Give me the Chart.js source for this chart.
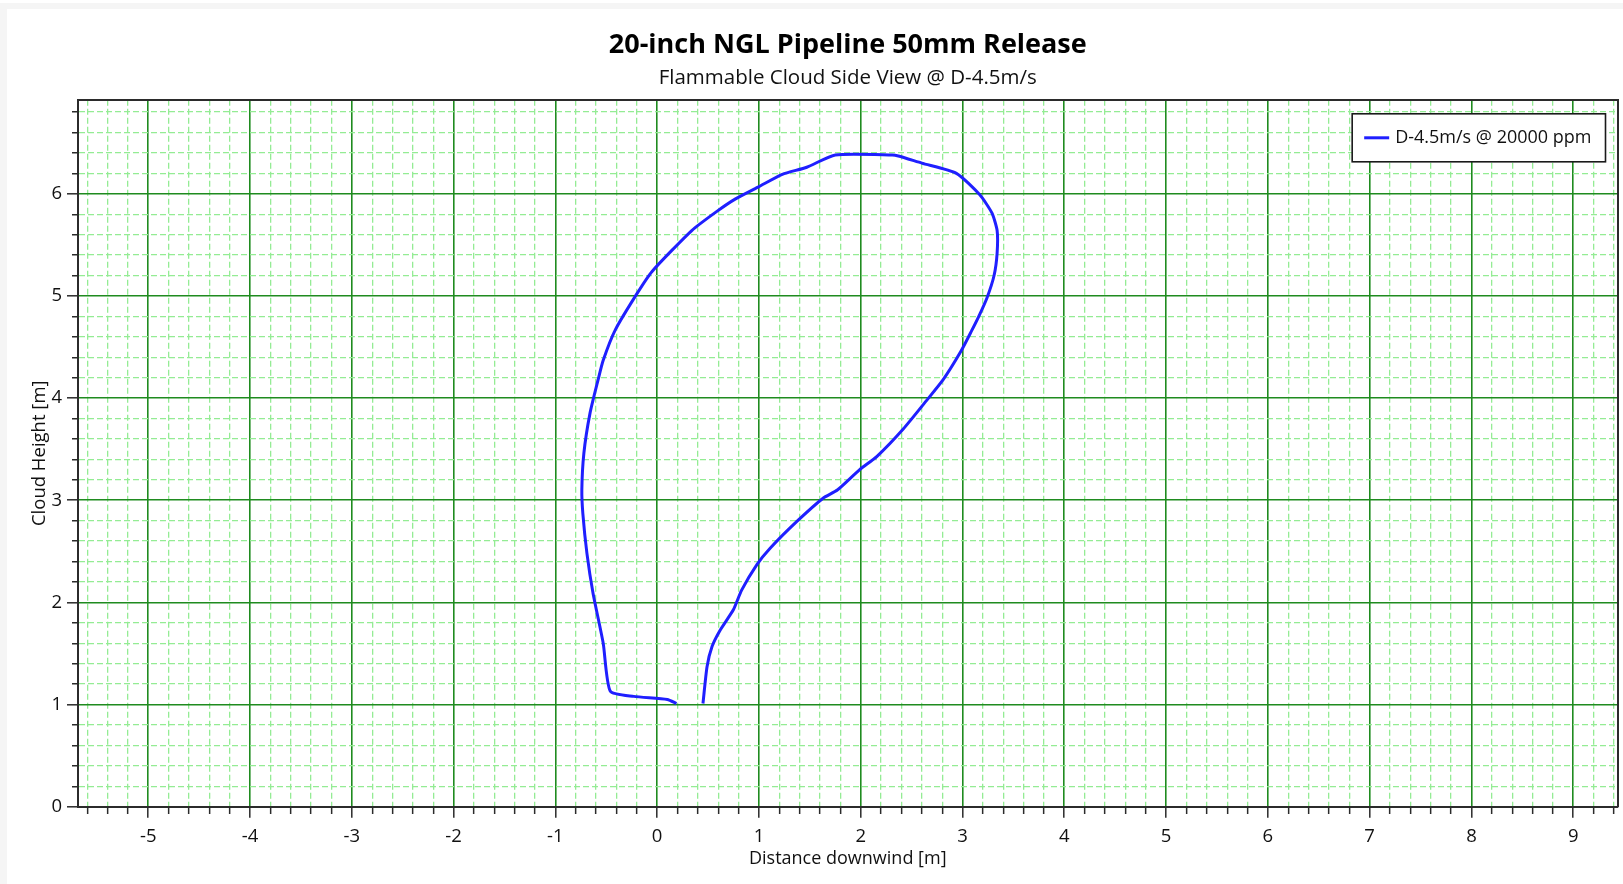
<!DOCTYPE html>
<html>
<head>
<meta charset="utf-8">
<title>20-inch NGL Pipeline 50mm Release</title>
<script src="https://cdn.jsdelivr.net/npm/chart.js@4.4.1/dist/chart.umd.min.js"></script>
<style>
    html, body { margin: 0; padding: 0; width: 1623px; height: 884px; overflow: hidden; background: #fff; }
    #band { position: absolute; left: 0; top: 3px; right: 0; bottom: 0; background: #f5f5f5; }
    #panel { position: absolute; left: 7px; top: 9px; right: 0; bottom: 0; background: #fff; }
    #panel canvas { display: block; }
</style>
</head>
<body>
<div id="band"></div>
<div id="panel"><canvas id="cloudChart"></canvas></div>
<script>
// Texts
const chartTitle = '20-inch NGL Pipeline 50mm Release';
const chartSubtitle = 'Flammable Cloud Side View @ D-4.5m/s';
const seriesLabel = 'D-4.5m/s @ 20000 ppm';
const xAxisTitle = 'Distance downwind [m]';
const yAxisTitle = 'Cloud Height [m]';

// Cloud outline, traced from the right foot, over the top, down to the left foot
const cloudX = [0.45, 0.49, 0.54, 0.62, 0.75, 0.83, 0.98, 1.11, 1.37, 1.63, 1.77, 1.99, 2.16, 2.42,
    2.65, 2.81, 2.98, 3.09, 3.16, 3.24, 3.31, 3.34, 3.34, 3.29, 3.17, 2.94, 2.60, 2.37, 2.31,
    1.75, 1.47, 1.23, 1.00, 0.77, 0.59, 0.34, -0.05, -0.20, -0.41, -0.53, -0.58, -0.66, -0.72,
    -0.74, -0.73, -0.69, -0.63, -0.53, -0.46, -0.23, 0.10, 0.19];
const cloudY = [1.01, 1.37, 1.57, 1.73, 1.93, 2.12, 2.37, 2.53, 2.79, 3.02, 3.10, 3.30, 3.43, 3.70,
    3.98, 4.18, 4.45, 4.66, 4.80, 4.98, 5.20, 5.42, 5.64, 5.81, 5.99, 6.20, 6.30, 6.37, 6.38,
    6.38, 6.26, 6.19, 6.07, 5.95, 5.83, 5.64, 5.24, 5.02, 4.67, 4.37, 4.18, 3.85, 3.46,
    3.10, 2.87, 2.48, 2.09, 1.60, 1.13, 1.08, 1.05, 1.01];

// Axis ranges and grid step
const xRange = [-5.69, 9.435];
const yRange = [0, 6.92];
const minorStep = 0.2;

const FONT = '"Open Sans", "Noto Sans", sans-serif';
const majorGreen = '#1f8b1f';
const minorGreen = '#94ec94';
const axisInk = '#2b2b2b';

const isMajor = v => Math.abs(v - Math.round(v)) < 1e-6;
const tickIsMajor = c => c.tick ? isMajor(c.tick.value) : true;

// minor/major grid on one axis: dashed light green vs solid dark green
function gridFor(vertical) {
    return {
        color: c => tickIsMajor(c) ? majorGreen : minorGreen,
        lineWidth: c => tickIsMajor(c) ? 1.6 : 1.3,
        tickLength: 11,
        tickColor: axisInk,
        tickWidth: 1.5,
        // short minor ticks: only the part next to the axis is drawn
        tickBorderDash: c => tickIsMajor(c) ? [] : (vertical ? [0, 5, 20, 0] : [6, 20])
    };
}

function ticksFor(pad) {
    return {
        stepSize: minorStep,
        autoSkip: false,
        includeBounds: false,
        maxRotation: 0,
        minRotation: 0,
        padding: pad,
        color: '#111',
        font: { family: FONT, size: 18.5 },
        callback: v => isMajor(v) ? String(Math.round(v)) : ''
    };
}

const border = {
    color: axisInk,
    width: 2,
    dash: c => c.tick && !isMajor(c.tick.value) ? [6, 3] : []
};

// Legend drawn as a framed box in the top-right corner of the plot
const boxLegend = {
    id: 'boxLegend',
    afterDraw(chart, args, opts) {
        const { ctx, chartArea } = chart;
        const ds = chart.data.datasets[0];
        ctx.save();
        ctx.font = `${opts.fontSize}px ${FONT}`;
        const textW = ctx.measureText(ds.label).width;
        const w = opts.padLeft + opts.sample + opts.gap + textW + opts.padRight;
        const left = chartArea.right - opts.insetRight - w;
        const top = chartArea.top + opts.insetTop;
        ctx.fillStyle = '#fff';
        ctx.fillRect(left, top, w, opts.height);
        ctx.strokeStyle = '#1a1a1a';
        ctx.lineWidth = 1.6;
        ctx.strokeRect(left, top, w, opts.height);
        const mid = top + opts.height / 2;
        ctx.strokeStyle = ds.borderColor;
        ctx.lineWidth = ds.borderWidth;
        ctx.beginPath();
        ctx.moveTo(left + opts.padLeft, mid);
        ctx.lineTo(left + opts.padLeft + opts.sample, mid);
        ctx.stroke();
        ctx.fillStyle = '#111';
        ctx.textAlign = 'left';
        ctx.textBaseline = 'middle';
        ctx.fillText(ds.label, left + opts.padLeft + opts.sample + opts.gap, mid);
        ctx.restore();
    }
};

new Chart(document.getElementById('cloudChart'), {
    type: 'scatter',
    data: {
        datasets: [{
            label: seriesLabel,
            data: cloudX.map((x, i) => ({ x, y: cloudY[i] })),
            showLine: true,
            borderColor: '#1f1fff',
            borderWidth: 3,
            pointRadius: 0,
            tension: 0.2,
            fill: false
        }]
    },
    options: {
        animation: false,
        responsive: true,
        maintainAspectRatio: false,
        layout: { padding: { top: 0, right: 5.5, bottom: 0, left: 0 } },
        plugins: {
            legend: { display: false },
            tooltip: { enabled: false },
            title: {
                display: true,
                text: chartTitle,
                fullSize: false,
                color: '#000',
                font: { family: FONT, size: 27, weight: 'bold' },
                padding: { top: 20, bottom: 2.6 }
            },
            subtitle: {
                display: true,
                text: chartSubtitle,
                fullSize: false,
                color: '#111',
                font: { family: FONT, size: 20.5 },
                padding: { top: 1.6, bottom: 9.6 }
            },
            boxLegend: {
                fontSize: 18, padLeft: 12, sample: 25, gap: 6, padRight: 14,
                height: 48, insetRight: 12, insetTop: 14
            }
        },
        scales: {
            x: {
                type: 'linear',
                position: 'bottom',
                min: xRange[0],
                max: xRange[1],
                grid: gridFor(false),
                border,
                ticks: ticksFor(7.5),
                title: {
                    display: true, text: xAxisTitle, color: '#111',
                    font: { family: FONT, size: 18 },
                    padding: { top: 0, bottom: 14.5 }
                },
                afterFit: s => { s.height = 77.3; }
            },
            y: {
                type: 'linear',
                position: 'left',
                min: yRange[0],
                max: yRange[1],
                grid: gridFor(true),
                border,
                ticks: ticksFor(5),
                title: {
                    display: true, text: yAxisTitle, color: '#111',
                    font: { family: FONT, size: 18.5 },
                    padding: { top: 22, bottom: 0 }
                },
                afterFit: s => { s.width = 71; }
            },
            // top and right frame of the plot
            x2: {
                type: 'linear', position: 'top', min: xRange[0], max: xRange[1],
                grid: { display: false, drawTicks: false },
                ticks: { display: false },
                border: { color: axisInk, width: 2 }
            },
            y2: {
                type: 'linear', position: 'right', min: yRange[0], max: yRange[1],
                grid: { display: false, drawTicks: false },
                ticks: { display: false },
                border: { color: axisInk, width: 2 }
            }
        }
    },
    plugins: [boxLegend]
});
</script>
</body>
</html>
